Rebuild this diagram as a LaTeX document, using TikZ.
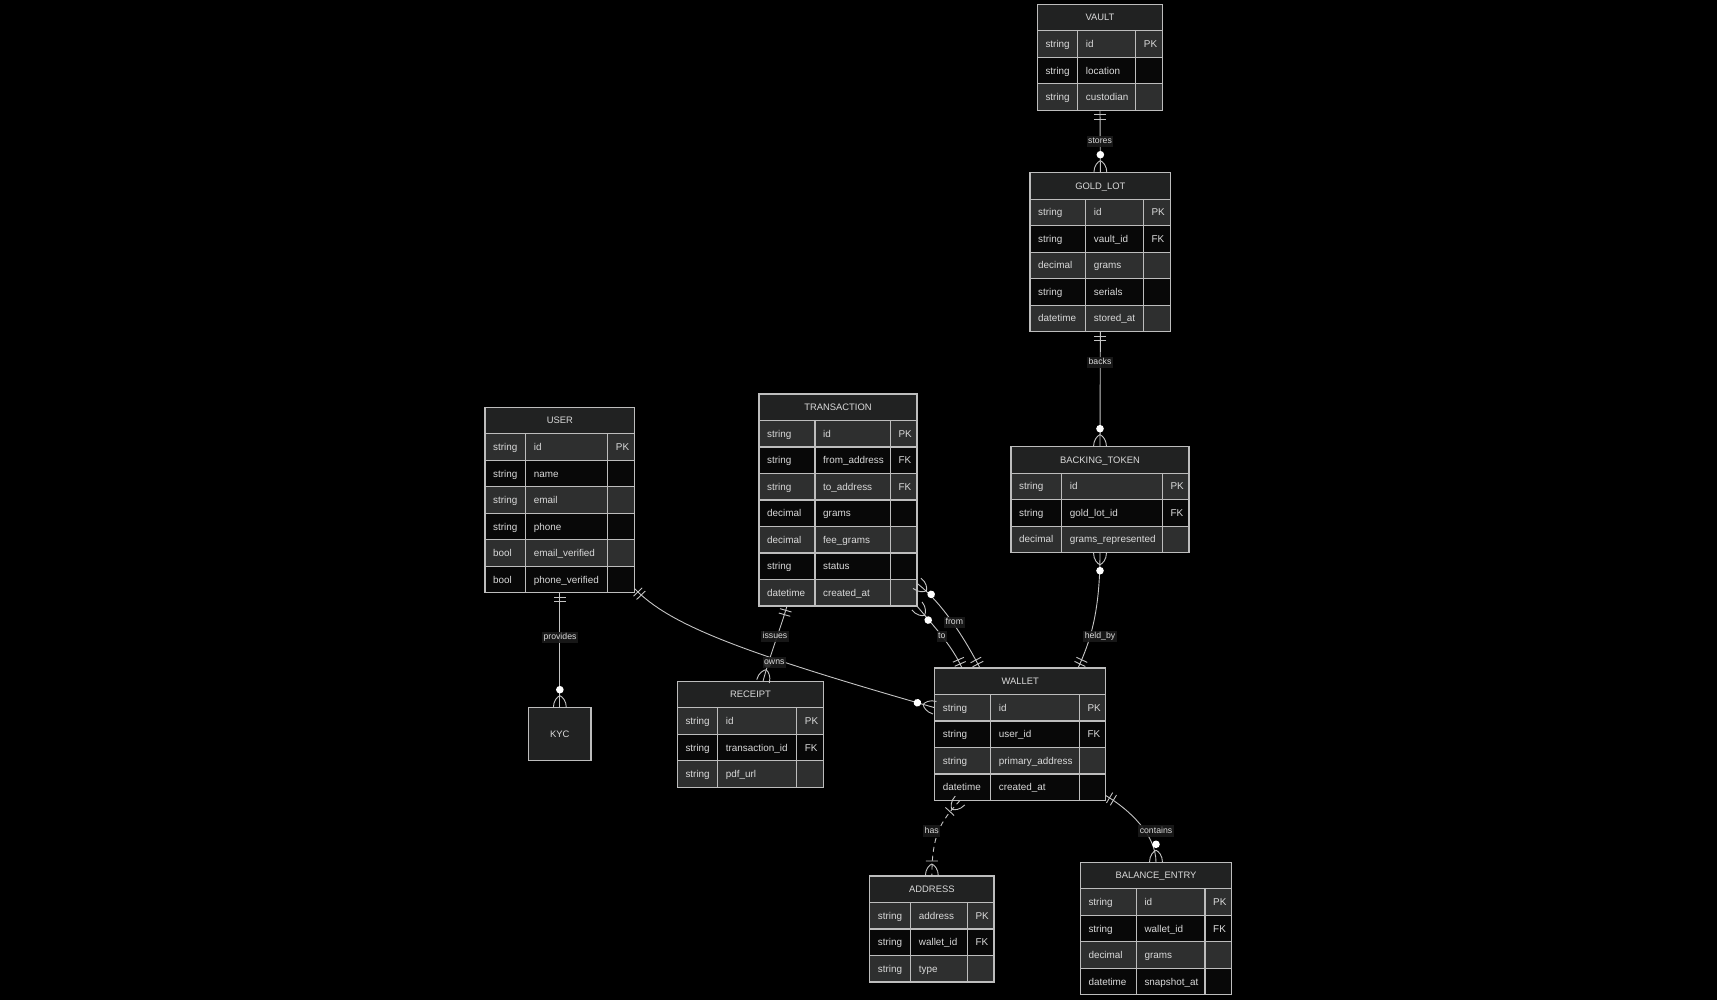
\documentclass[tikz,border=0pt]{standalone}
\usepackage{fontspec}
\setmainfont{Liberation Sans}
\usetikzlibrary{calc}
\definecolor{hdrc}{HTML}{212222}
\definecolor{oddc}{HTML}{2E2F2F}
\definecolor{evenc}{HTML}{080808}
\definecolor{bordc}{HTML}{BDBDBD}
\definecolor{txtc}{HTML}{DADADA}
\definecolor{linec}{HTML}{C4C4C4}
\definecolor{lblc}{HTML}{1A1A1A}
\tikzset{
 erbody/.style={draw=none, fill=none, inner sep=0, outer sep=0, anchor=north west},
 erhdr/.style={draw=bordc, line width=1.2pt, fill=hdrc, inner sep=0, outer sep=0, anchor=north west, minimum height=26.5pt, text=txtc, font=\fontsize{9.4pt}{11pt}\selectfont, text height=6.7pt, text depth=0pt},
 ercell/.style={draw=bordc, line width=1.2pt, inner sep=0, outer sep=0, anchor=north west, minimum height=26.5pt},
 ertext/.style={text=txtc, inner sep=0, anchor=west, font=\fontsize{9.9pt}{11pt}\selectfont, text height=7pt, text depth=0pt},
 conn/.style={draw=linec, line width=0.9pt},
 rel/.style={fill=lblc, fill opacity=0.9, text opacity=1, text=txtc, inner sep=1.5pt, font=\fontsize{8.7pt}{10pt}\selectfont, text height=6.3pt, text depth=1.8pt},
}
\newcommand\erentity[9]{%
 \pgfmathsetmacro\erW{#4+#5+#6}%
 \pgfmathsetmacro\erH{26.5*(#7+1)}%
 \node[erbody, minimum width=\erW pt, minimum height=\erH pt] (#1) at (#2,#3) {};
 \node[erhdr, minimum width=\erW pt] (#1-h) at (#2,#3) {#8};
 \foreach \cA/\cB/\cC [count=\i] in {#9}{%
   \pgfmathsetmacro\yy{#3+26.5*\i}%
   \ifodd\i\relax\def\rf{oddc}\else\def\rf{evenc}\fi
   \node[ercell, fill=\rf, minimum width=#4pt] (#1-\i-a) at (#2,\yy) {};
   \node[ercell, fill=\rf, minimum width=#5pt] (#1-\i-b) at (#2+#4,\yy) {};
   \node[ercell, fill=\rf, minimum width=#6pt] (#1-\i-c) at (#2+#4+#5,\yy) {};
   \node[ertext] (#1-\i-at) at ($(#1-\i-a.west)+(8,0)$) {\cA};
   \node[ertext] (#1-\i-bt) at ($(#1-\i-b.west)+(8,0)$) {\cB};
   \node[ertext] (#1-\i-ct) at ($(#1-\i-c.west)+(8,0)$) {\cC};
 }%
}
\newcommand\mkone[2]{\begin{scope}[shift={#1},rotate=#2]\draw[conn] (4.5,-6)--(4.5,6) (9,-6)--(9,6);\end{scope}}
\newcommand\mkzm[2]{\begin{scope}[shift={#1},rotate=#2]\draw[conn] (0,6.5) .. controls (7,6.5) and (11,2.5) .. (12,0) .. controls (11,-2.5) and (7,-6.5) .. (0,-6.5);\fill[white] (18,0) circle (3.8pt);\end{scope}}
\newcommand\mkom[2]{\begin{scope}[shift={#1},rotate=#2]\draw[conn] (0,6.5) .. controls (7,6.5) and (11,2.5) .. (12,0) .. controls (11,-2.5) and (7,-6.5) .. (0,-6.5) (15,-6)--(15,6);\end{scope}}
\begin{document}
\begin{tikzpicture}[x=1pt,y=-1pt]
\useasboundingbox (0,0) rectangle (1717,1000);
\fill[black] (0,0) rectangle (1717,1000);
% entities
\erentity{vault}{1037.3}{4.3}{40.4}{58}{27}{3}{VAULT}{string/id/PK, string/location/{}, string/custodian/{}}
\erentity{goldlot}{1030}{172.7}{55.7}{57.6}{27.4}{5}{GOLD\_LOT}{string/id/PK, string/vault\_id/FK, decimal/grams/{}, string/serials/{}, datetime/stored\_at/{}}
\erentity{user}{485}{407.3}{40.7}{82}{27}{6}{USER}{string/id/PK, string/name/{}, string/email/{}, string/phone/{}, bool/email\_verified/{}, bool/phone\_verified/{}}
\erentity{transaction}{759}{394}{56}{75.3}{26.7}{7}{TRANSACTION}{string/id/PK, string/from\_address/FK, string/to\_address/FK, decimal/grams/{}, decimal/fee\_grams/{}, string/status/{}, datetime/created\_at/{}}
\erentity{backing}{1011}{446.7}{50.7}{100.6}{26.7}{3}{BACKING\_TOKEN}{string/id/PK, string/gold\_lot\_id/FK, decimal/grams\_represented/{}}
\erentity{receipt}{677.3}{681.3}{40.4}{79}{27}{3}{RECEIPT}{string/id/PK, string/transaction\_id/FK, string/pdf\_url/{}}
\erentity{wallet}{934.7}{668}{56}{88.6}{26.4}{4}{WALLET}{string/id/PK, string/user\_id/FK, string/primary\_address/{}, datetime/created\_at/{}}
\erentity{address}{869.7}{876}{41}{56.6}{26.7}{3}{ADDRESS}{string/address/PK, string/wallet\_id/FK, string/type/{}}
\erentity{balance}{1080.3}{862.3}{56}{68.7}{26.7}{4}{BALANCE\_ENTRY}{string/id/PK, string/wallet\_id/FK, decimal/grams/{}, datetime/snapshot\_at/{}}
\node[erhdr, minimum width=62.3pt, minimum height=53pt] (kyc) at (528.7,707.7) {KYC};
% connector end points
\coordinate (hb-e) at ($(wallet.north)+(57.8,0)$);
\coordinate (ow-s) at ($(user.south east)+(0,-4)$);
\coordinate (ow-e) at ($(wallet.north west)+(0,39.7)$);
\coordinate (is-s) at ($(transaction.south)+(-51,0)$);
\coordinate (is-e) at ($(receipt.north)+(12.5,0)$);
\coordinate (fr-s) at ($(transaction.south east)+(0,-22.7)$);
\coordinate (fr-e) at ($(wallet.north)+(-40.2,0)$);
\coordinate (to-s) at (transaction.south east);
\coordinate (to-e) at ($(wallet.north)+(-58.2,0)$);
\coordinate (ha-s) at ($(wallet.south)+(-60.2,0)$);
\coordinate (co-s) at ($(wallet.south east)+(0,-5)$);
% connectors
\draw[conn] (vault.south) -- (goldlot.north);
\draw[conn] (goldlot.south) -- (backing.north);
\draw[conn] (backing.south) .. controls (1100,610) and (1091,640) .. (hb-e);
\draw[conn] (user.south) -- (kyc.north);
\draw[conn] (ow-s) .. controls (670,625) and (740,652) .. (ow-e);
\draw[conn] (is-s) .. controls (780,630) and (770,655) .. (is-e);
\draw[conn] (fr-s) .. controls (945,605) and (968,645) .. (fr-e);
\draw[conn] (to-s) .. controls (930,622) and (952,645) .. (to-e);
\draw[conn, dash pattern=on 5pt off 4pt] (ha-s) .. controls (940,822) and (932,835) .. (address.north);
\draw[conn] (co-s) .. controls (1130,810) and (1156,835) .. (balance.north);
% markers
\mkone{(vault.south)}{-90}
\mkzm{(goldlot.north)}{90}
\mkone{(goldlot.south)}{-90}
\mkzm{(backing.north)}{90}
\mkzm{(backing.south)}{-90}
\mkone{(hb-e)}{65}
\mkone{(user.south)}{-90}
\mkzm{(kyc.north)}{90}
\mkone{(ow-s)}{-46}
\mkzm{(ow-e)}{164}
\mkone{(is-s)}{-106}
\mkzm{(is-e)}{75}
\mkzm{(fr-s)}{-38}
\mkone{(fr-e)}{117.5}
\mkzm{(to-s)}{-51.4}
\mkone{(to-e)}{113.5}
\mkom{(ha-s)}{-133}
\mkom{(address.north)}{90}
\mkone{(co-s)}{-31}
\mkzm{(balance.north)}{90}
% labels
\node[rel] (l-stores) at (1100,141.7) {stores};
\node[rel] (l-backs) at (1100,362.5) {backs};
\node[rel] (l-heldby) at (1100,636.7) {held\_by};
\node[rel] (l-provides) at (560,637.3) {provides};
\node[rel] (l-issues) at (775,636.7) {issues};
\node[rel] (l-owns) at (774.3,662.7) {owns};
\node[rel] (l-from) at (954.3,622.3) {from};
\node[rel] (l-to) at (941.7,636.7) {to};
\node[rel] (l-has) at (931.7,831) {has};
\node[rel] (l-contains) at (1156,831) {contains};
\end{tikzpicture}
\end{document}
